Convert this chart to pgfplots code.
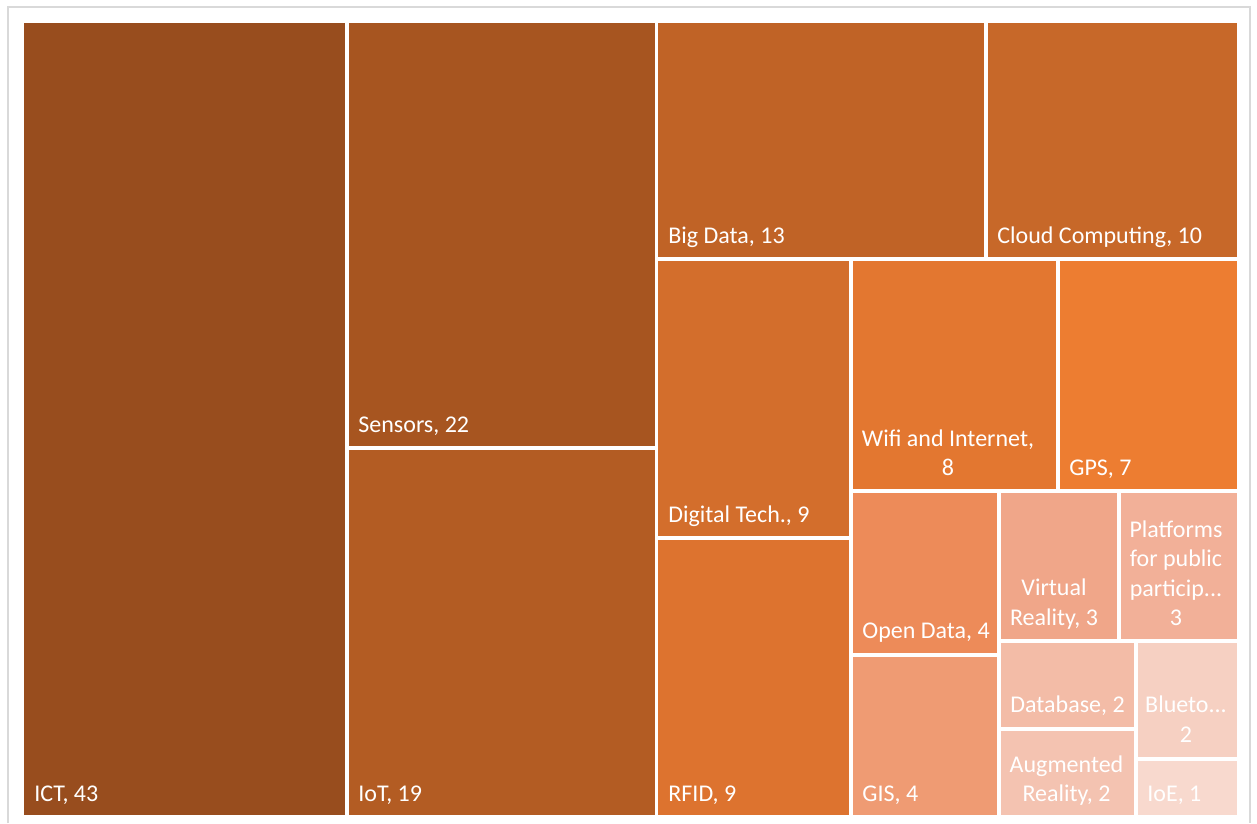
\documentclass[border=0pt]{standalone}
\usepackage{pgfplots}
\pgfplotsset{compat=1.18}
\usepackage{fontspec}
\setmainfont{Carlito}
\definecolor{cICT}{RGB}{152,77,30}
\definecolor{cSen}{RGB}{167,85,32}
\definecolor{cIoT}{RGB}{179,92,35}
\definecolor{cBig}{RGB}{192,99,38}
\definecolor{cCloud}{RGB}{199,104,41}
\definecolor{cDig}{RGB}{211,110,44}
\definecolor{cRFID}{RGB}{221,115,47}
\definecolor{cWifi}{RGB}{227,119,48}
\definecolor{cGPS}{RGB}{237,125,49}
\definecolor{cOpen}{RGB}{237,139,89}
\definecolor{cGIS}{RGB}{239,155,115}
\definecolor{cVR}{RGB}{240,166,137}
\definecolor{cPlat}{RGB}{242,176,152}
\definecolor{cDB}{RGB}{243,188,167}
\definecolor{cAug}{RGB}{244,195,177}
\definecolor{cBlue}{RGB}{246,208,194}
\definecolor{cIoE}{RGB}{248,217,206}
\definecolor{frame}{RGB}{217,217,217}
\begin{document}
\begin{tikzpicture}[
  lab/.style={text=white, font=\fontsize{12bp}{14bp}\selectfont, inner sep=0pt, anchor=base west},
  clab/.style={text=white, font=\fontsize{12bp}{14bp}\selectfont, inner sep=0pt, anchor=base}]
\begin{axis}[hide axis, scale only axis, width=628.5bp, height=411.5bp,
  xmin=0, xmax=1257, ymin=0, ymax=823, y dir=reverse, clip=false]
\fill[white] (axis cs:0,0) rectangle (axis cs:1257,823);
\draw[frame, line width=1bp] (axis cs:8,823) -- (axis cs:8,7) -- (axis cs:1250,7) -- (axis cs:1250,823);
% treemap cells: value -> rectangle (x1,y1)-(x2,y2) in layout units
% ICT 43
\addplot[fill=cICT, draw=none] coordinates {(24,23) (345,23) (345,815) (24,815)} -- cycle;
% Sensors 22
\addplot[fill=cSen, draw=none] coordinates {(349,23) (655,23) (655,446) (349,446)} -- cycle;
% IoT 19
\addplot[fill=cIoT, draw=none] coordinates {(349,450) (655,450) (655,815) (349,815)} -- cycle;
% Big Data 13
\addplot[fill=cBig, draw=none] coordinates {(658,23) (983.5,23) (983.5,257.3) (658,257.3)} -- cycle;
% Cloud Computing 10
\addplot[fill=cCloud, draw=none] coordinates {(987.5,23) (1236.7,23) (1236.7,257.3) (987.5,257.3)} -- cycle;
% Digital Tech 9
\addplot[fill=cDig, draw=none] coordinates {(658,261.3) (849.3,261.3) (849.3,536) (658,536)} -- cycle;
% RFID 9
\addplot[fill=cRFID, draw=none] coordinates {(658,540) (849.3,540) (849.3,815) (658,815)} -- cycle;
% Wifi and Internet 8
\addplot[fill=cWifi, draw=none] coordinates {(853.3,261.3) (1055.5,261.3) (1055.5,489.3) (853.3,489.3)} -- cycle;
% GPS 7
\addplot[fill=cGPS, draw=none] coordinates {(1059.5,261.3) (1236.7,261.3) (1236.7,489.3) (1059.5,489.3)} -- cycle;
% Open Data 4
\addplot[fill=cOpen, draw=none] coordinates {(853.3,493.3) (996.7,493.3) (996.7,652.7) (853.3,652.7)} -- cycle;
% GIS 4
\addplot[fill=cGIS, draw=none] coordinates {(853.3,656.7) (996.7,656.7) (996.7,815) (853.3,815)} -- cycle;
% Virtual Reality 3
\addplot[fill=cVR, draw=none] coordinates {(1000.7,493.3) (1116.7,493.3) (1116.7,639.3) (1000.7,639.3)} -- cycle;
% Platforms 3
\addplot[fill=cPlat, draw=none] coordinates {(1120.7,493.3) (1236.7,493.3) (1236.7,639.3) (1120.7,639.3)} -- cycle;
% Database 2
\addplot[fill=cDB, draw=none] coordinates {(1000.7,643.3) (1134,643.3) (1134,727.3) (1000.7,727.3)} -- cycle;
% Augmented Reality 2
\addplot[fill=cAug, draw=none] coordinates {(1000.7,731.3) (1134,731.3) (1134,815) (1000.7,815)} -- cycle;
% Bluetooth 2
\addplot[fill=cBlue, draw=none] coordinates {(1138,643.3) (1236.7,643.3) (1236.7,756.7) (1138,756.7)} -- cycle;
% IoE 1
\addplot[fill=cIoE, draw=none] coordinates {(1138,760.7) (1236.7,760.7) (1236.7,815) (1138,815)} -- cycle;
% labels
\node[lab] at (axis cs:34,801) {ICT, 43};
\node[lab] at (axis cs:358,432) {Sensors, 22};
\node[lab] at (axis cs:358,801) {IoT, 19};
\node[lab] at (axis cs:668,243) {Big Data, 13};
\node[lab] at (axis cs:997,243) {Cloud Computing, 10};
\node[lab] at (axis cs:668,522) {Digital Tech., 9};
\node[lab] at (axis cs:668,801) {RFID, 9};
\node[clab] at (axis cs:948,446) {Wifi and Internet,};
\node[clab] at (axis cs:948,475) {8};
\node[lab] at (axis cs:1069,475) {GPS, 7};
\node[lab] at (axis cs:862,638.7) {Open Data, 4};
\node[lab] at (axis cs:862,801) {GIS, 4};
\node[clab] at (axis cs:1054,595) {Virtual};
\node[clab] at (axis cs:1054,625) {Reality, 3};
\node[clab] at (axis cs:1176,537) {Platforms};
\node[clab] at (axis cs:1176,566) {for public};
\node[clab] at (axis cs:1176,596) {particip...};
\node[clab] at (axis cs:1176,625) {3};
\node[lab] at (axis cs:1010,712.5) {Database, 2};
\node[clab] at (axis cs:1186,712.5) {Blueto...};
\node[clab] at (axis cs:1186,742) {2};
\node[clab] at (axis cs:1066.5,772) {Augmented};
\node[clab] at (axis cs:1066.5,801) {Reality, 2};
\node[lab] at (axis cs:1147,801) {IoE, 1};
\end{axis}
\end{tikzpicture}
\end{document}
